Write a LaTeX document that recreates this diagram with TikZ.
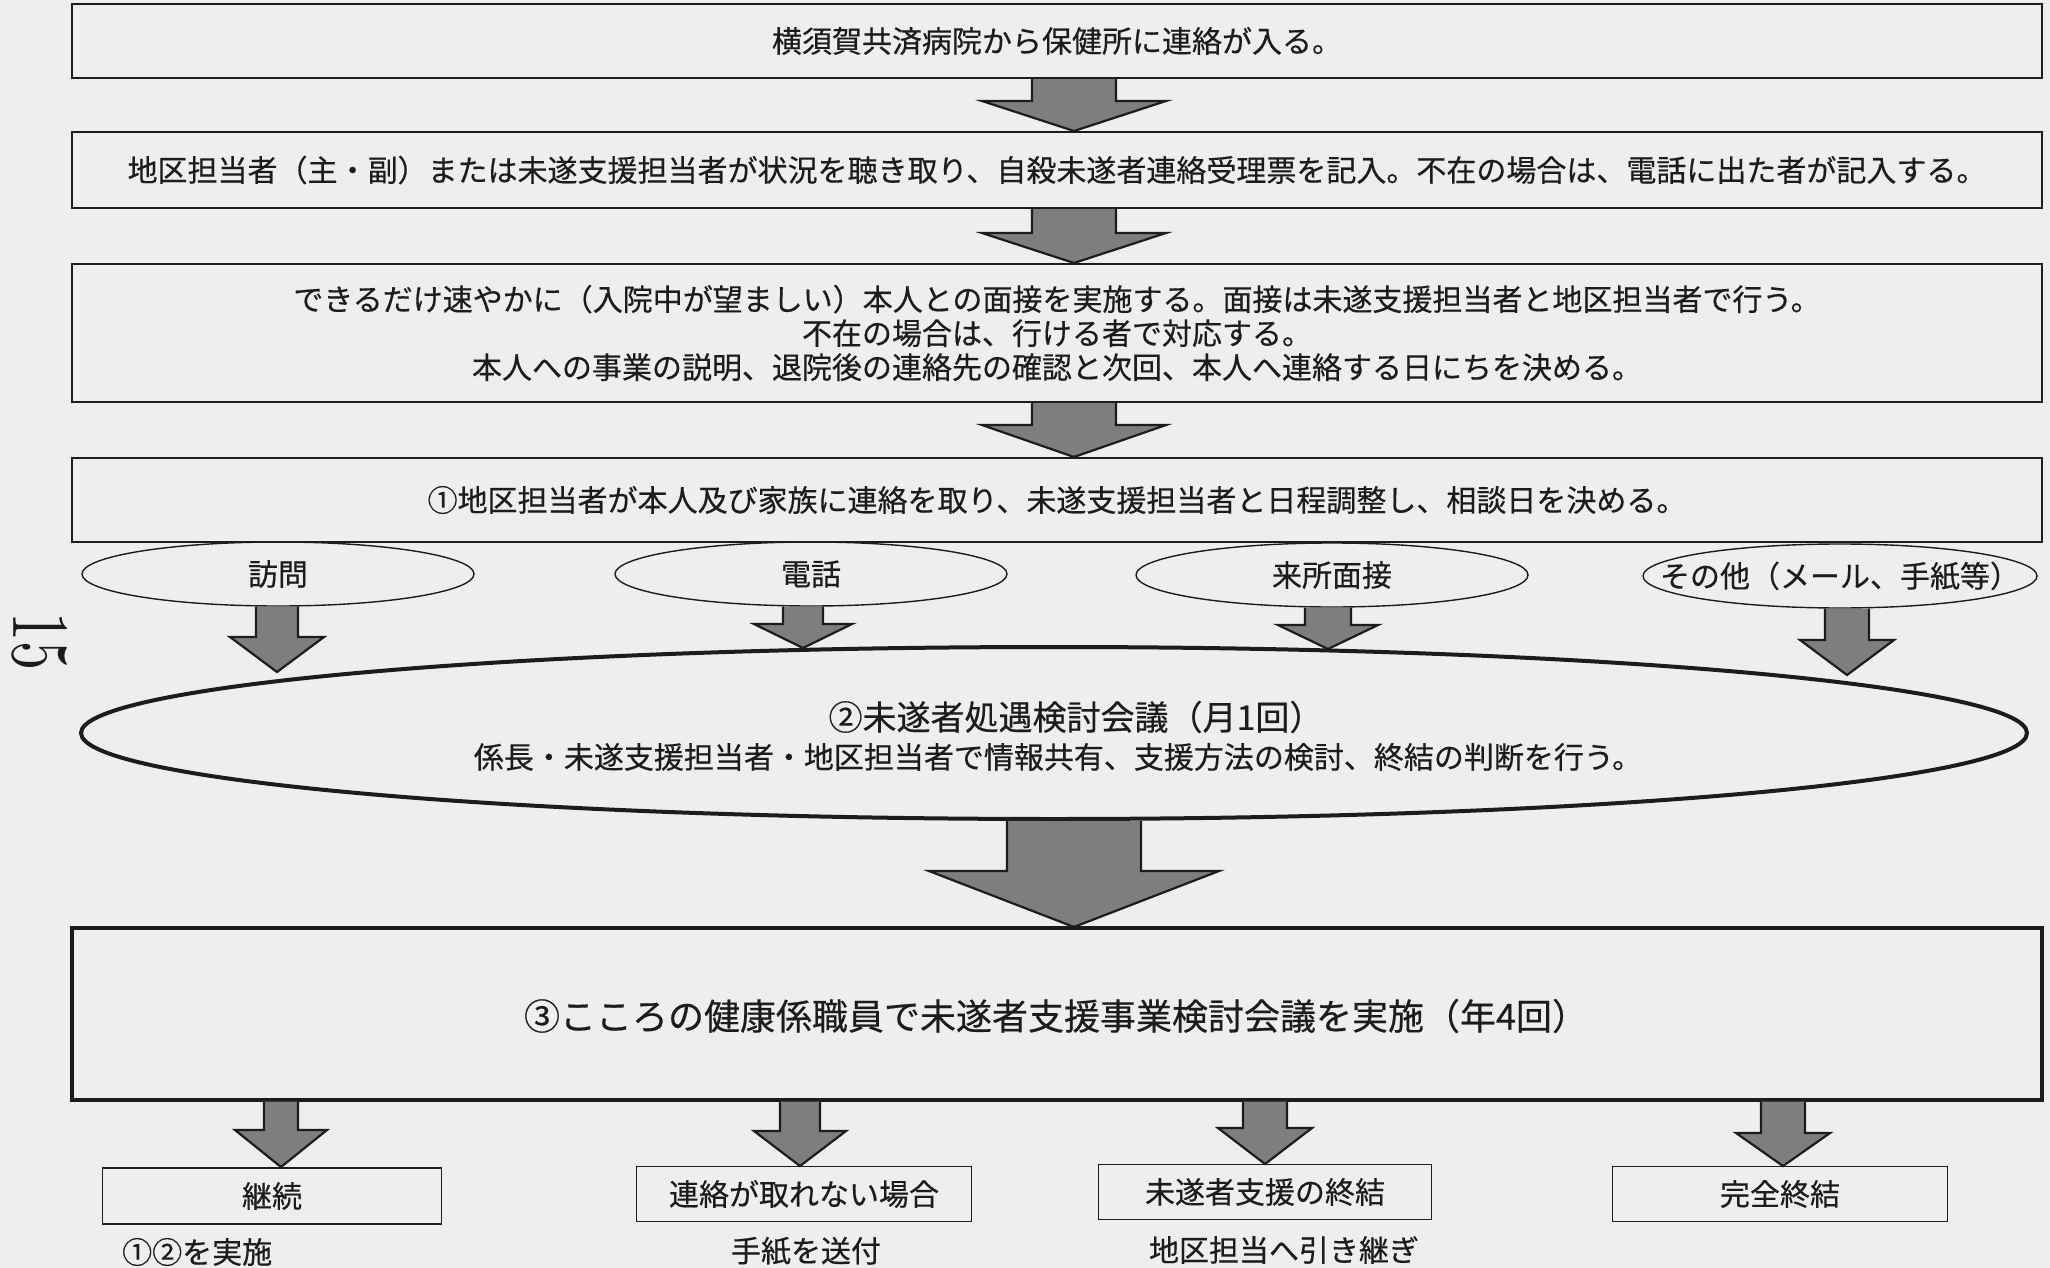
\documentclass[tikz,border=0pt]{standalone}
\usepackage{fontspec}
\usepackage{graphicx}
\newfontfamily\jp[FakeBold=0.4]{Noto Sans CJK JP}
\usetikzlibrary{shapes.geometric,calc}
\definecolor{paper}{HTML}{EEEEEE}
\definecolor{ink}{HTML}{1C1C1C}
\definecolor{arrowfill}{HTML}{7E7E7E}
\tikzset{
  tx/.style={text=ink,inner sep=0pt,font=\jp\fontsize{30}{34}\selectfont},
  flowbox/.style={tx,draw=ink,line width=2.4pt,rectangle,minimum width=1970pt},
  smallbox/.style={tx,draw=ink,line width=1.8pt,rectangle,minimum width=335pt,minimum height=55pt},
  oval/.style={draw=ink,line width=1.4pt,ellipse,inner sep=0pt,minimum width=392pt,minimum height=64pt},
  bigoval/.style={draw=ink,line width=4pt,ellipse,inner sep=0pt,minimum width=1946pt,minimum height=172pt},
  blockarrowstyle/.style={fill=arrowfill,draw=ink,line width=2.2pt,line join=miter}
}
% #1 source point, #2 tip point, #3 shaft half width, #4 head half width, #5 head length
\newcommand{\blockarrow}[5]{%
  \path[blockarrowstyle] let \p1=(#1), \p2=(#2) in
    (\x2-#3pt,\y1) -- (\x2-#3pt,\y2+#5pt) -- (\x2-#4pt,\y2+#5pt) -- (\x2,\y2)
    -- (\x2+#4pt,\y2+#5pt) -- (\x2+#3pt,\y2+#5pt) -- (\x2+#3pt,\y1);
}
\begin{document}
\begin{tikzpicture}[x=1pt,y=-1pt]
\fill[paper] (0,0) rectangle (2050,1268);
\useasboundingbox (0,0) rectangle (2050,1268);

% page number
\node[rotate=-90,inner sep=0pt,text=ink] (pg) at (40,641) {\resizebox{58pt}{54pt}{15}};

% main boxes
\node[flowbox,minimum height=74pt] (b1) at (1057,41) {横須賀共済病院から保健所に連絡が入る。};
\node[flowbox,minimum height=76pt] (b2) at (1057,170) {地区担当者（主・副）または未遂支援担当者が状況を聴き取り、自殺未遂者連絡受理票を記入。不在の場合は、電話に出た者が記入する。};
\node[flowbox,minimum height=138pt,align=center] (b3) at (1057,333) {できるだけ速やかに（入院中が望ましい）本人との面接を実施する。面接は未遂支援担当者と地区担当者で行う。\\不在の場合は、行ける者で対応する。\\本人への事業の説明、退院後の連絡先の確認と次回、本人へ連絡する日にちを決める。};
\node[flowbox,minimum height=84pt] (b4) at (1057,500) {①地区担当者が本人及び家族に連絡を取り、未遂支援担当者と日程調整し、相談日を決める。};

% contact methods
\node[oval] (e1) at (278,574) {};
\node[oval] (e2) at (811,574) {};
\node[oval] (e3) at (1332,575) {};
\node[oval,minimum width=394pt] (e4) at (1840,576) {};
\node[tx] (e1t) at (e1.center) {訪問};
\node[tx] (e2t) at (e2.center) {電話};
\node[tx] (e3t) at (e3.center) {来所面接};
\node[tx] (e4t) at (e4.center) {その他（メール、手紙等）};

% meeting ellipse
\node[bigoval] (m) at (1054,733) {};
\node[tx,font=\jp\fontsize{34}{36}\selectfont] (mt1) at (1076,717) {②未遂者処遇検討会議（月1回）};
\node[tx] (mt2) at (1058,757) {係長・未遂支援担当者・地区担当者で情報共有、支援方法の検討、終結の判断を行う。};

% quarterly meeting box
\node[flowbox,line width=3.4pt,minimum height=172pt,font=\jp\fontsize{36}{38}\selectfont] (b5) at (1057,1014) {};
\node[tx,font=\jp\fontsize{36}{38}\selectfont] (b5t) at (1056,1016) {③こころの健康係職員で未遂者支援事業検討会議を実施（年4回）};

% outcome boxes
\node[smallbox,minimum width=339pt,minimum height=56pt] (r1) at (272,1196) {継続};
\node[smallbox] (r2) at (804,1194) {連絡が取れない場合};
\node[smallbox,minimum width=333pt] (r3) at (1265,1192) {未遂者支援の終結};
\node[smallbox] (r4) at (1780,1194) {完全終結};
\node[tx,anchor=west] (n1) at (122,1252) {①②を実施};
\node[tx] (n2) at (806,1251) {手紙を送付};
\node[tx] (n3) at (1284,1250) {地区担当へ引き継ぎ};

% arrow tips
\coordinate (t1) at (1074,131);
\coordinate (t2) at (1074,263);
\coordinate (t3) at (1074,457);
\coordinate (s1) at (277,672);
\coordinate (s2) at (803,648);
\coordinate (s3) at (1328,649);
\coordinate (s4) at (1847,675);
\coordinate (tb) at (1074,927);
\coordinate (u1) at (281,1167);
\coordinate (u2) at (800,1166);
\coordinate (u3) at (1265,1164);
\coordinate (u4) at (1783,1166);

% arrows
\blockarrow{b1.south}{t1}{42}{92}{30}
\blockarrow{b2.south}{t2}{42}{92}{30}
\blockarrow{b3.south}{t3}{42}{92}{32}
\blockarrow{e1.south}{s1}{21}{47}{35}
\blockarrow{e2.south}{s2}{20}{49}{24}
\blockarrow{e3.south}{s3}{23}{50}{24}
\blockarrow{e4.south}{s4}{22}{47}{35}
\blockarrow{m.south}{tb}{67}{145}{56}
\blockarrow{b5.south}{u1}{17}{46}{37}
\blockarrow{b5.south}{u2}{20}{46}{35}
\blockarrow{b5.south}{u3}{22}{47}{36}
\blockarrow{b5.south}{u4}{22}{47}{33}
\end{tikzpicture}
\end{document}
